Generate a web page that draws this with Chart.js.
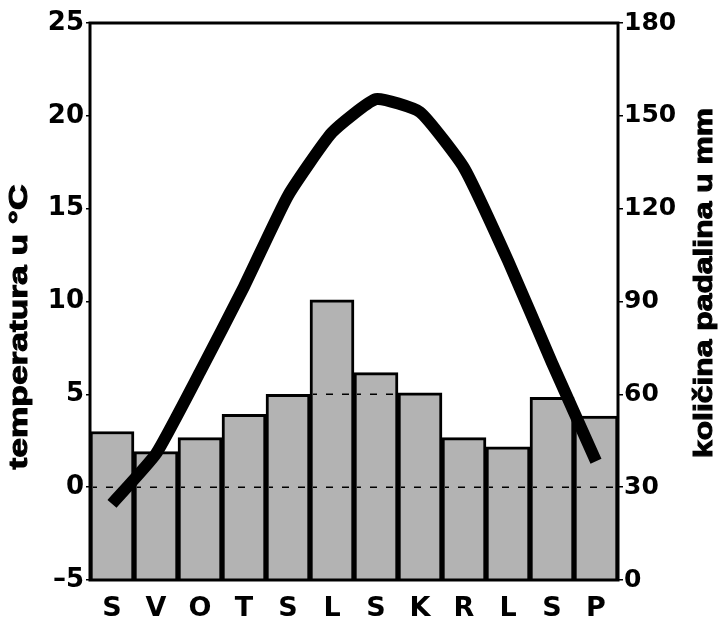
<!DOCTYPE html>
<html>
<head>
<meta charset="utf-8">
<script src="https://cdn.jsdelivr.net/npm/chart.js@4"></script>
<style>
  html, body { margin: 0; padding: 0; background: #fff; }
  #wrap { width: 724px; height: 625px; }
</style>
</head>
<body>
<div id="wrap"><canvas id="klima"></canvas></div>
<script>
const mjeseci = ['S', 'V', 'O', 'T', 'S', 'L', 'S', 'K', 'R', 'L', 'S', 'P'];
const temperatura = [-0.9, 1.8, 6.2, 10.8, 15.7, 19.1, 20.9, 20.2, 17.2, 12.2, 6.7, 1.4];
const padaline = [48, 41.5, 46, 53.5, 60, 90.5, 67, 60.5, 46, 43, 59, 53];
const crtkane = [0, 5]; // isprekidane linije unutar stupaca (°C)

const font = 'DejaVu Sans';

// okvir, naslovi osi i crtkane linije u stupcima
const okvir = {
  id: 'okvir',
  afterDatasetDraw(chart, args) {
    if (args.index !== 1) return;
    const ctx = chart.ctx;
    const y = chart.scales.y;
    ctx.save();
    ctx.strokeStyle = '#000';
    ctx.lineWidth = 1.5;
    ctx.setLineDash([7, 9]);
    args.meta.data.forEach(bar => {
      const p = bar.getProps(['x', 'y', 'base', 'width'], true);
      ctx.save();
      ctx.beginPath();
      ctx.rect(p.x - p.width / 2 + 3, p.y + 3, p.width - 6, p.base - p.y - 3);
      ctx.clip();
      crtkane.forEach(v => {
        const py = y.getPixelForValue(v);
        ctx.beginPath();
        ctx.moveTo(p.x - p.width / 2, py);
        ctx.lineTo(p.x + p.width / 2, py);
        ctx.stroke();
      });
      ctx.restore();
    });
    ctx.restore();
  },
  afterDraw(chart) {
    const ctx = chart.ctx;
    const a = chart.chartArea;
    ctx.save();
    ctx.strokeStyle = '#000';
    ctx.lineWidth = 3;
    ctx.strokeRect(a.left, a.top, a.right - a.left, a.bottom - a.top);

    ctx.fillStyle = '#000';
    ctx.font = 'bold 25px "Liberation Sans"';
    ctx.textAlign = 'center';
    ctx.textBaseline = 'middle';
    ctx.lineWidth = 1;
    const naslov = (txt, x, y, duljina) => {
      const w = ctx.measureText(txt).width;
      ctx.save();
      ctx.translate(x, y);
      ctx.rotate(-Math.PI / 2);
      ctx.scale(duljina / w, 1);
      ctx.fillText(txt, 0, 0);
      ctx.strokeText(txt, 0, 0);
      ctx.restore();
    };
    naslov('temperatura u °C', 20, 327, 285);
    naslov('količina padalina u mm', 705, 283, 350);
    ctx.restore();
  }
};

new Chart(document.getElementById('klima'), {
  type: 'bar',
  data: {
    labels: mjeseci,
    datasets: [
      {
        type: 'line',
        label: 'Temperatura',
        data: temperatura,
        yAxisID: 'y',
        borderColor: '#000',
        borderWidth: 12,
        pointRadius: 0,
        tension: 0.15,
        borderJoinStyle: 'round',
        order: 0
      },
      {
        label: 'Padaline',
        data: padaline,
        yAxisID: 'y1',
        backgroundColor: '#b3b3b3',
        borderColor: '#000',
        borderWidth: 3,
        borderSkipped: 'bottom',
        barPercentage: 1,
        categoryPercentage: 1,
        order: 1
      }
    ]
  },
  options: {
    responsive: true,
    maintainAspectRatio: false,
    animation: false,
    layout: { padding: { top: 23, left: 0, right: 0, bottom: 0 } },
    plugins: { legend: { display: false }, tooltip: { enabled: false } },
    scales: {
      x: {
        grid: { display: false },
        border: { display: false },
        ticks: { color: '#000', font: { family: font, size: 27, weight: 'bold' }, padding: 5, maxRotation: 0 },
        afterFit: s => { s.height = 45; }
      },
      y: {
        position: 'left',
        min: -5,
        max: 25,
        grid: { drawOnChartArea: false, color: '#000', tickLength: 4, lineWidth: 1.5 },
        border: { display: false },
        ticks: {
          stepSize: 5,
          color: '#000',
          padding: 2,
          font: { family: font, size: 26, weight: 'bold' },
          callback: v => String(v).replace('-', '–')
        },
        afterFit: s => { s.width = 90; }
      },
      y1: {
        position: 'right',
        min: 0,
        max: 180,
        grid: { drawOnChartArea: false, color: '#000', tickLength: 5, lineWidth: 1.5 },
        border: { display: false },
        ticks: {
          stepSize: 30,
          color: '#000',
          padding: 1,
          font: { family: font, size: 25, weight: 'bold' }
        },
        afterFit: s => { s.width = 106; }
      }
    }
  },
  plugins: [okvir]
});
</script>
</body>
</html>
